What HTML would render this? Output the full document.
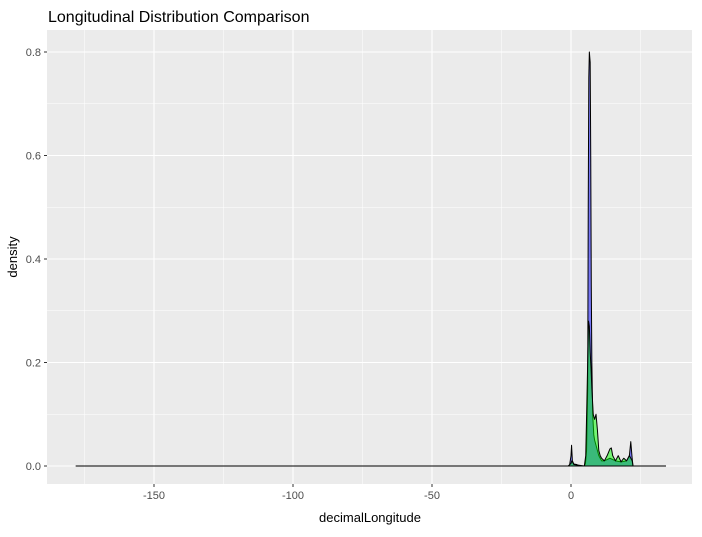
<!DOCTYPE html>
<html><head><meta charset="utf-8"><style>
body{margin:0;background:#fff;font-family:"Liberation Sans",sans-serif}
</style></head><body>
<svg id="c" width="702" height="532" xmlns="http://www.w3.org/2000/svg">
<text x="48" y="22" font-size="16" fill="#000">Longitudinal Distribution Comparison</text>
<rect x="47" y="30" width="645" height="454" fill="#ebebeb"/>
<g id="grid"></g>
<g id="marks"></g>
<g id="axes"></g>
<text x="370" y="522" font-size="13" text-anchor="middle" fill="#000">decimalLongitude</text>
<text x="0" y="0" font-size="13" text-anchor="middle" fill="#000" transform="translate(17,257) rotate(-90)">density</text>
</svg>
<script>
const xTicks=[-150,-100,-50,0];
const xMinor=[-175,-125,-75,-25,25];
const yTicks=[0,0.2,0.4,0.6,0.8];
const yMinor=[0.1,0.3,0.5,0.7];
const blueLon=[-178,-1,-0.5,0,0.2,0.5,1,2,3,4.8,5.2,5.6,6.0,6.2,6.4,6.6,6.9,7.1,7.3,7.5,7.8,8.2,8.5,9,10,11,12,14,16,18,20,21,21.5,22,22.3,34];
const blueDen=[0,0,0.002,0.02,0.04,0.01,0.004,0.003,0,0,0.005,0.03,0.15,0.5,0.75,0.8,0.78,0.6,0.35,0.2,0.1,0.06,0.05,0.04,0.02,0.01,0.01,0.015,0.01,0.008,0.01,0.02,0.047,0.015,0,0];
const greenLon=[-178,-1,0,0.3,1,4.8,5.3,5.7,6.0,6.3,6.6,6.9,7.2,7.5,8,8.5,9,9.5,10,10.5,11,12,13,14,14.5,15,16,17,18,19,20,21,22,22.3,34];
const greenDen=[0,0,0.005,0.01,0.003,0,0.02,0.12,0.2,0.28,0.27,0.22,0.19,0.15,0.1,0.09,0.1,0.07,0.03,0.02,0.015,0.01,0.02,0.033,0.035,0.02,0.01,0.02,0.008,0.015,0.01,0.02,0.01,0,0];
const X=v=>571+v*2.78, Y=v=>466-v*517.5;
const NS='http://www.w3.org/2000/svg';
function mk(p,t,a){const e=document.createElementNS(NS,t);for(const k in a)e.setAttribute(k,a[k]);p.appendChild(e);return e;}
const g=document.getElementById('grid'),m=document.getElementById('marks'),ax=document.getElementById('axes');
xMinor.forEach(v=>{const l=mk(g,'line',{x1:X(v),x2:X(v),y1:30,y2:484,stroke:'#fff','stroke-width':0.5});

});
yMinor.forEach(v=>{const l=mk(g,'line',{x1:47,x2:692,y1:Y(v),y2:Y(v),stroke:'#fff','stroke-width':0.5});

});
xTicks.forEach(v=>{const l=mk(g,'line',{x1:X(v),x2:X(v),y1:30,y2:484,stroke:'#fff','stroke-width':1.1});


const t=mk(ax,'line',{x1:X(v),x2:X(v),y1:484,y2:487,stroke:'#333'});


const s=mk(ax,'text',{x:X(v),y:499,'font-size':11,'text-anchor':'middle',fill:'#4d4d4d'});s.textContent=v;

});
yTicks.forEach(v=>{const l=mk(g,'line',{x1:47,x2:692,y1:Y(v),y2:Y(v),stroke:'#fff','stroke-width':1.1});


const t=mk(ax,'line',{x1:44,x2:47,y1:Y(v),y2:Y(v),stroke:'#333'});


const s=mk(ax,'text',{x:41,y:Y(v)+4,'font-size':11,'text-anchor':'end',fill:'#4d4d4d'});s.textContent=v.toFixed(1);

});
function area(lon,den,fill,name){
 let d='M'+X(lon[0])+','+Y(0);
 lon.forEach((v,i)=>d+=' L'+X(v)+','+Y(den[i]));
 d+=' L'+X(lon[lon.length-1])+','+Y(0)+'Z';
 const p=mk(m,'path',{d:d,fill:fill,stroke:'#000','stroke-width':1,'stroke-linejoin':'round'});
 
 
}
area(blueLon,blueDen,'rgba(0,0,255,0.5)','blue-density-area');
area(greenLon,greenDen,'rgba(0,255,0,0.5)','green-density-area');
</script>
</body></html>
